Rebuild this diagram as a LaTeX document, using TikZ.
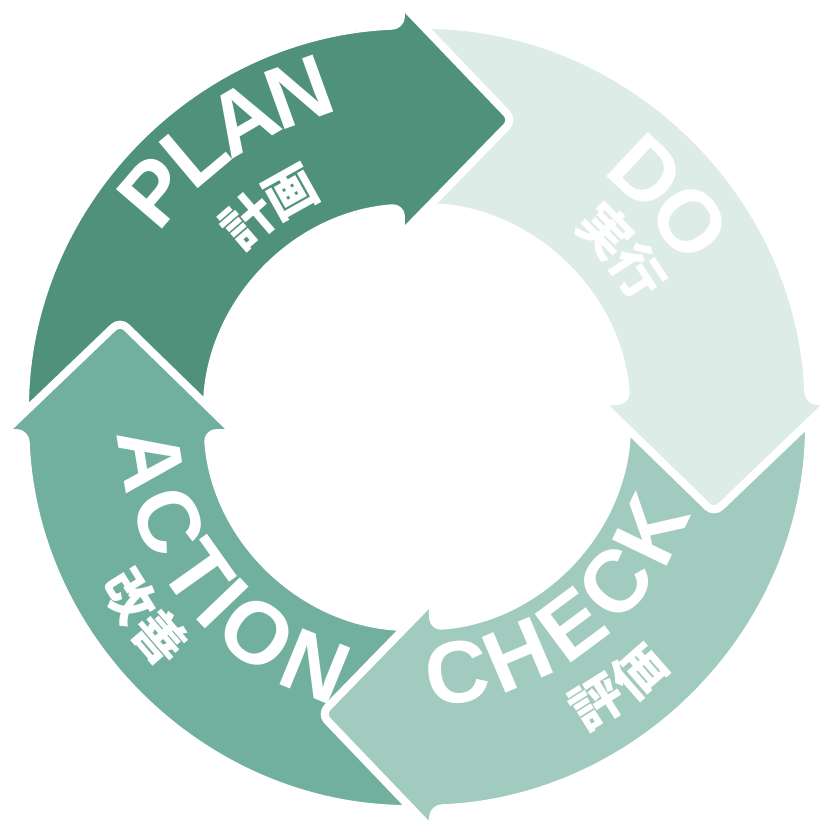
\documentclass[tikz,border=0pt]{standalone}
\usepackage{fontspec}
\usetikzlibrary{decorations.text}
\newfontfamily\lsans{Liberation Sans}
\newfontfamily\cjkjp{Noto Sans CJK JP}
\definecolor{planc}{HTML}{4F917B}
\definecolor{actc}{HTML}{71B09E}
\definecolor{checkc}{HTML}{A0CBBE}
\definecolor{doc}{HTML}{DDECE7}
\newcommand\pdcabig{\lsans\bfseries\fontsize{88}{92}\selectfont\color{white}}
\newcommand\pdcasub{\cjkjp\bfseries\fontsize{52}{56}\selectfont\color{white}}
\tikzset{
  arrowshape/.style={draw=white, line width=8pt, rounded corners=9pt, line join=round},
  pdcaarrow/.pic={
    \filldraw[arrowshape, fill=#1]
      (180:392) arc[start angle=180, end angle=92.34, radius=392]
      -- (-16,414) -- (96,297) -- (-16,182)
      -- (94.37:210) arc[start angle=94.37, end angle=180, radius=210] -- cycle;
  },
  bigtxt/.style={decorate, decoration={text along path, text align=center, raise=-31.5pt, text={|\pdcabig|#1}}},
  subtxt/.style={decorate, decoration={text along path, text align=center, raise=-20pt, text={|\pdcasub|#1}}}
}
\begin{document}
\begin{tikzpicture}[x=1pt, y=1pt]
\useasboundingbox (-417,-411) rectangle (403,417);
% arrows: PLAN, ACTION, CHECK, DO, then PLAN head again on top of DO tail
\pic (plan) {pdcaarrow=planc};
\pic[rotate=90] (action) {pdcaarrow=actc};
\pic[rotate=180] (check) {pdcaarrow=checkc};
\pic[rotate=-90] (do) {pdcaarrow=doc};
\begin{scope}
  \clip (-60,40) rectangle (200,440);
  \pic (planhead) {pdcaarrow=planc};
\end{scope}
% labels (clockwise paths: letters upright outward; counter-clockwise: upright inward)
\path[bigtxt=PLAN] (174.4:347) arc[start angle=174.4, end angle=74.4, radius=347];
\path[subtxt=計画] (175:259) arc[start angle=175, end angle=75, radius=259];
\path[bigtxt=DO] (91:337) arc[start angle=91, end angle=-9, radius=337];
\path[subtxt=実行] (89:265) arc[start angle=89, end angle=-11, radius=265];
\path[bigtxt=CHECK] (-103.4:258) arc[start angle=-103.4, end angle=-3.4, radius=258];
\path[subtxt=評価] (-103.3:337) arc[start angle=-103.3, end angle=-3.3, radius=337];
\path[bigtxt=ACTION] (168.5:268) arc[start angle=168.5, end angle=268.5, radius=268];
\path[subtxt=改善] (166.3:338) arc[start angle=166.3, end angle=266.3, radius=338];
\end{tikzpicture}
\end{document}
